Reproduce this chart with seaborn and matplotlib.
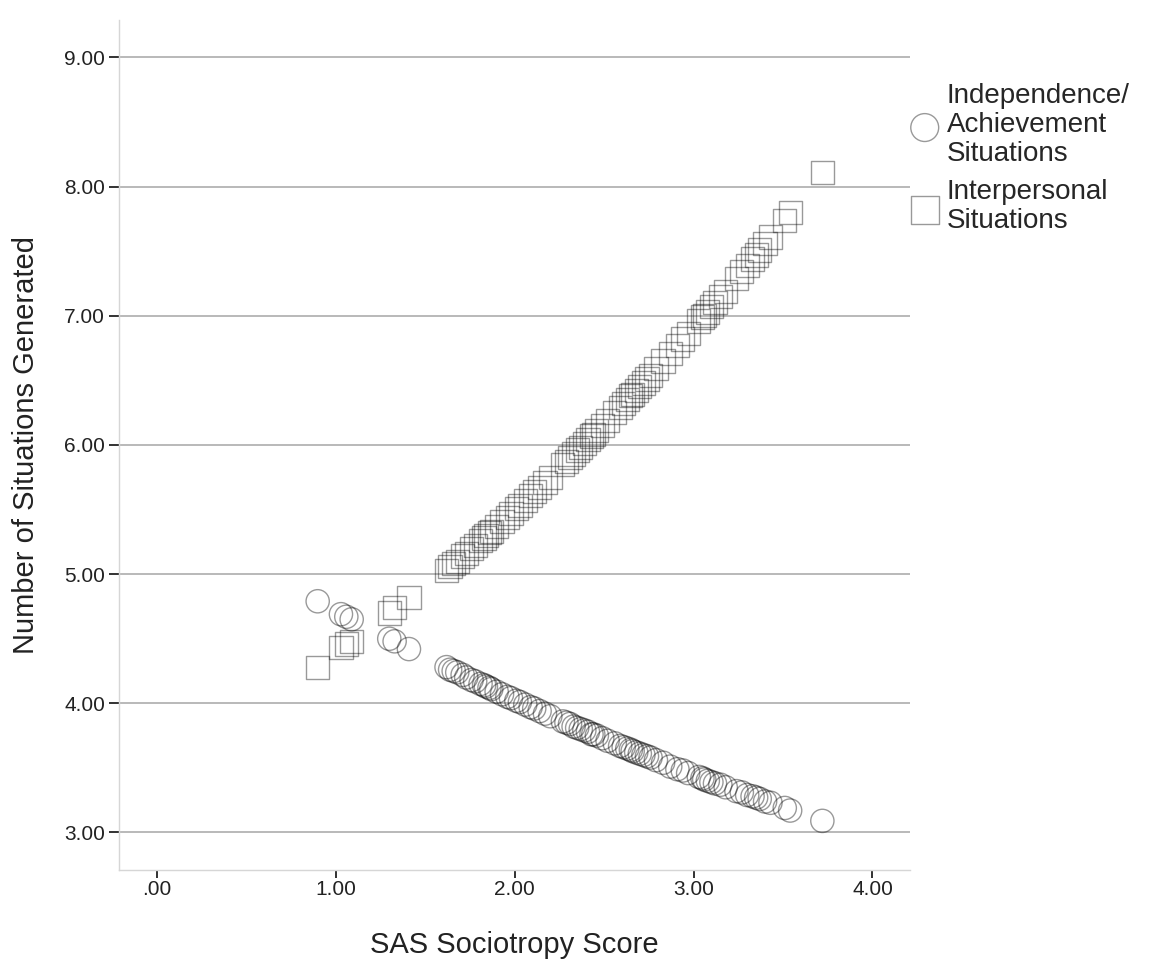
import matplotlib
matplotlib.use("Agg")
import pandas as pd
import matplotlib.pyplot as plt
import seaborn as sns

# -----------------------------
# DATA
# -----------------------------
sas_score = [
    0.90, 1.03, 1.06, 1.09, 1.30, 1.33, 1.41,
    1.62, 1.64, 1.66, 1.68, 1.71, 1.73, 1.76, 1.78, 1.81, 1.83,
    1.84, 1.86, 1.87, 1.90, 1.93, 1.96, 1.98, 2.01, 2.03, 2.06,
    2.09, 2.11, 2.14, 2.17, 2.20, 2.27, 2.29, 2.31, 2.33, 2.35,
    2.37, 2.39, 2.41, 2.43, 2.44, 2.46, 2.49, 2.52, 2.56, 2.59,
    2.61, 2.63, 2.65, 2.66, 2.68, 2.70, 2.72, 2.74, 2.76, 2.79,
    2.83, 2.87, 2.91, 2.94, 2.97, 3.03, 3.05, 3.06, 3.08, 3.10,
    3.12, 3.15, 3.18, 3.24, 3.27, 3.30, 3.33, 3.35, 3.37, 3.40,
    3.43, 3.51, 3.54, 3.72,
]

independence = [
    4.79, 4.69, 4.67, 4.65, 4.50, 4.48, 4.42,
    4.28, 4.26, 4.25, 4.24, 4.22, 4.20, 4.18, 4.17, 4.15, 4.14,
    4.13, 4.12, 4.11, 4.09, 4.07, 4.05, 4.04, 4.02, 4.01, 3.99,
    3.97, 3.96, 3.94, 3.92, 3.90, 3.86, 3.85, 3.84, 3.82, 3.81,
    3.80, 3.79, 3.78, 3.76, 3.76, 3.75, 3.73, 3.71, 3.69, 3.67,
    3.66, 3.65, 3.64, 3.63, 3.62, 3.61, 3.60, 3.59, 3.58, 3.56,
    3.54, 3.51, 3.49, 3.48, 3.46, 3.43, 3.42, 3.41, 3.40, 3.39,
    3.38, 3.37, 3.35, 3.32, 3.31, 3.29, 3.28, 3.27, 3.26, 3.24,
    3.23, 3.19, 3.17, 3.09,
]

interpersonal = [
    4.28, 4.43, 4.46, 4.48, 4.70, 4.74, 4.82,
    5.03, 5.06, 5.08, 5.10, 5.14, 5.16, 5.20, 5.22, 5.26, 5.28,
    5.30, 5.32, 5.33, 5.37, 5.41, 5.44, 5.47, 5.51, 5.53, 5.57,
    5.61, 5.64, 5.67, 5.71, 5.75, 5.85, 5.87, 5.90, 5.93, 5.96,
    5.98, 6.01, 6.04, 6.07, 6.08, 6.11, 6.15, 6.19, 6.25, 6.29,
    6.32, 6.35, 6.38, 6.39, 6.42, 6.45, 6.48, 6.51, 6.54, 6.59,
    6.65, 6.71, 6.77, 6.82, 6.86, 6.96, 6.99, 7.00, 7.03, 7.07,
    7.10, 7.15, 7.19, 7.29, 7.34, 7.39, 7.44, 7.47, 7.51, 7.56,
    7.61, 7.74, 7.80, 8.11,
]

x_ticks = [0, 1, 2, 3, 4]
x_tick_labels = [".00", "1.00", "2.00", "3.00", "4.00"]
y_ticks = [3, 4, 5, 6, 7, 8, 9]
y_tick_labels = ["3.00", "4.00", "5.00", "6.00", "7.00", "8.00", "9.00"]

label_ind = "Independence/\nAchievement\nSituations"
label_int = "Interpersonal\nSituations"

df = pd.DataFrame({
    "SAS": sas_score,
    "Independence": independence,
    "Interpersonal": interpersonal,
})

# -----------------------------
# STYLE
# -----------------------------
sns.set_theme(style="white")
plt.rcParams["font.family"] = ["Liberation Sans", "DejaVu Sans"]

fig = plt.figure(figsize=(11.59, 9.73), dpi=100, facecolor="white")
ax = fig.add_axes([0.1027, 0.1059, 0.6825, 0.8736])

marker_kw = dict(s=280, facecolor="none", edgecolor="black",
                 linewidth=1.0, alpha=0.4)

sns.scatterplot(data=df, x="SAS", y="Independence", marker="o",
                label=label_ind, ax=ax, **marker_kw)
sns.scatterplot(data=df, x="SAS", y="Interpersonal", marker="s",
                label=label_int, ax=ax, **marker_kw)

ax.set_xlim(-0.21, 4.21)
ax.set_ylim(2.71, 9.29)
ax.set_xticks(x_ticks)
ax.set_xticklabels(x_tick_labels)
ax.set_yticks(y_ticks)
ax.set_yticklabels(y_tick_labels)

ax.yaxis.grid(True, color="#b3b3b3", linewidth=1.3)
ax.xaxis.grid(False)
ax.set_axisbelow(True)

for side in ["top", "right"]:
    ax.spines[side].set_visible(False)
for side in ["left", "bottom"]:
    ax.spines[side].set_color("#d6d6d6")
    ax.spines[side].set_linewidth(1.0)

ax.tick_params(axis="both", bottom=True, left=True, direction="out",
               length=7, width=1.3, color="#222222",
               labelsize=15, labelcolor="#222222", pad=3)
ax.tick_params(axis="x", length=6, pad=1)

ax.set_xlabel("SAS Sociotropy Score", fontsize=21, color="#222222")
ax.set_ylabel("Number of Situations Generated", fontsize=21, color="#222222")
ax.xaxis.set_label_coords(0.5, -0.072)
ax.yaxis.set_label_coords(-0.1, 0.5)

leg = ax.legend(loc="upper left", bbox_to_anchor=(1.001, 0.926),
                frameon=False, fontsize=20, borderpad=0, borderaxespad=0,
                handlelength=1.0, handletextpad=0.3, labelspacing=0.45,
                markerscale=1.2)
for txt in leg.get_texts():
    txt.set_linespacing(1.15)

fig.savefig("out.png", dpi=100, facecolor="white")
